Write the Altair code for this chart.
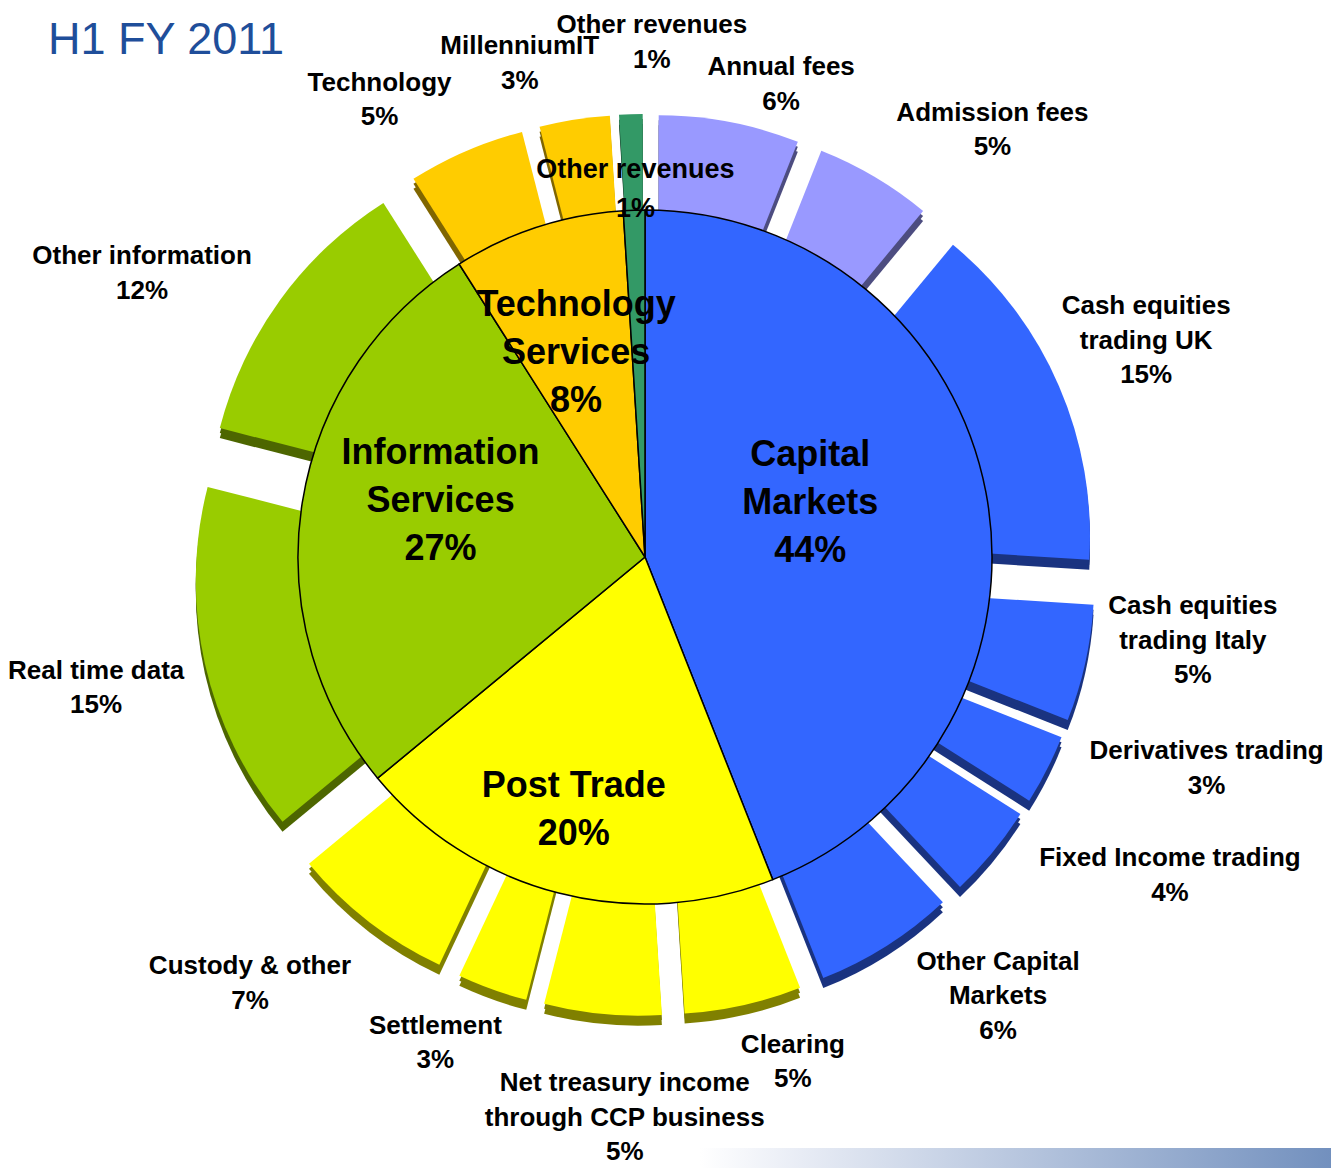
import math
import altair as alt
import pandas as pd

# ---------------- data ----------------
inner_names = ["Capital Markets", "Post Trade", "Information Services",
               "Technology Services", "Other revenues"]
inner_values = [44, 20, 27, 8, 1]
inner_display = ["Capital\nMarkets", "Post Trade", "Information\nServices",
                 "Technology\nServices", "Other revenues"]

outer_names = ["Annual fees", "Admission fees", "Cash equities trading UK",
               "Cash equities trading Italy", "Derivatives trading",
               "Fixed Income trading", "Other Capital Markets", "Clearing",
               "Net treasury income through CCP business", "Settlement",
               "Custody & other", "Real time data", "Other information",
               "Technology", "MillenniumIT", "Other revenues"]
outer_values = [6, 5, 15, 5, 3, 4, 6, 5, 5, 3, 7, 15, 12, 5, 3, 1]
outer_display = ["Annual fees", "Admission fees", "Cash equities\ntrading UK",
                 "Cash equities\ntrading Italy", "Derivatives trading",
                 "Fixed Income trading", "Other Capital\nMarkets", "Clearing",
                 "Net treasury income\nthrough CCP business", "Settlement",
                 "Custody & other", "Real time data", "Other information",
                 "Technology", "MillenniumIT", "Other revenues"]

title_text = "H1 FY 2011"

# ---------------- style ----------------
inner_colors = ["#3366FF", "#FFFF00", "#99CC00", "#FFCC00", "#339966"]
outer_face = ["#9999FF", "#9999FF", "#3366FF", "#3366FF", "#3366FF", "#3366FF",
              "#3366FF", "#FFFF00", "#FFFF00", "#FFFF00", "#FFFF00", "#99CC00",
              "#99CC00", "#FFCC00", "#FFCC00", "#339966"]
outer_side = ["#4D4D80", "#4D4D80", "#1A3380", "#1A3380", "#1A3380", "#1A3380",
              "#1A3380", "#808000", "#808000", "#808000", "#808000", "#4D6600",
              "#4D6600", "#806600", "#806600", "#1A4D33"]
# label nudges (pixels) relative to a point on the slice bisector
outer_nudge_dx = [34, 70, 1, 16, 76, 105, 61, 29, 31, -25, -61, -17, -62, -49, -40, 24]
outer_nudge_dy = [63, 42, 0, -35, -36, -29, -21, -27, 18, -27, -4, 12, 37, 43, 45, 30]
inner_nudge_dx = [-41, -19, 3, -4, -3]
inner_nudge_dy = [-15, 50, -23, -4, -158]

W, H = 1323, 1160
CX, CY = 637, 549
R_IN, R_OUT = 347, 378
EXPLODE, DROP, DEPTH = 73, 8, 10
LR_OUT, LR_IN = 545, 210
LH_OUT, LH_BIG, LH_SMALL = 34.5, 48, 39
FONT = "Liberation Sans"

xs = alt.Scale(domain=[-CX, W - CX], nice=False, zero=False)
ys = alt.Scale(domain=[-CY, H - CY], nice=False, zero=False, reverse=True)
ts = alt.Scale(domain=[0, 100], range=[0, 2 * math.pi])

inner_df = pd.DataFrame({
    "name": inner_names, "value": inner_values, "disp": inner_display,
    "order": list(range(len(inner_names))),
    "ndx": inner_nudge_dx, "ndy": inner_nudge_dy,
})
outer_df = pd.DataFrame({
    "name": outer_names, "value": outer_values, "disp": outer_display,
    "order": list(range(len(outer_names))),
    "ndx": outer_nudge_dx, "ndy": outer_nudge_dy,
})


def polar(df):
    return (alt.Chart(df)
            .transform_window(cum="sum(value)", frame=[None, 0],
                              sort=[alt.SortField("order")])
            .transform_calculate(
                start="datum.cum - datum.value",
                mid="(datum.cum - datum.value / 2) / 100 * 2 * PI",
                label="datum.disp + '\\n' + datum.value + '%'",
                nlines="length(split(datum.disp + '\\n' + datum.value, '\\n'))"))


outer_base = polar(outer_df).transform_calculate(
    ox=f"sin(datum.mid) * {EXPLODE}",
    oy=f"-cos(datum.mid) * {EXPLODE} + {DROP}",
    lx=f"sin(datum.mid) * {LR_OUT} + datum.ndx",
    ly=f"-cos(datum.mid) * {LR_OUT} + datum.ndy - (datum.nlines - 1) * {LH_OUT} / 2",
)


def outer_layer(ycalc, colors):
    return outer_base.transform_calculate(oyy=ycalc).mark_arc(
        outerRadius=R_OUT, innerRadius=0).encode(
        theta=alt.Theta("start:Q", scale=ts),
        theta2="cum:Q",
        x=alt.X("ox:Q", scale=xs, axis=None),
        y=alt.Y("oyy:Q", scale=ys, axis=None),
        color=alt.Color("name:N", scale=alt.Scale(domain=outer_names, range=colors),
                        legend=None),
    )


side1 = outer_layer(f"datum.oy + {DEPTH}", outer_side)
side2 = outer_layer(f"datum.oy + {DEPTH / 2}", outer_side)
face = outer_layer("datum.oy", outer_face)

inner_base = polar(inner_df).transform_calculate(
    zx="0", zy="0",
    lx=f"sin(datum.mid) * {LR_IN} + datum.ndx",
    lyc=f"-cos(datum.mid) * {LR_IN} + datum.ndy",
)

inner_pie = inner_base.mark_arc(outerRadius=R_IN, innerRadius=0, stroke="black",
                                strokeWidth=1.5).encode(
    theta=alt.Theta("start:Q", scale=ts),
    theta2="cum:Q",
    x=alt.X("zx:Q", scale=xs, axis=None),
    y=alt.Y("zy:Q", scale=ys, axis=None),
    color=alt.Color("name:N", scale=alt.Scale(domain=inner_names, range=inner_colors),
                    legend=None),
)

outer_text = outer_base.mark_text(
    font=FONT, fontWeight="bold", fontSize=26, lineBreak="\n", lineHeight=LH_OUT,
    align="center", baseline="middle", color="black").encode(
    x=alt.X("lx:Q", scale=xs, axis=None),
    y=alt.Y("ly:Q", scale=ys, axis=None),
    text="label:N",
)

inner_big = inner_base.transform_filter("datum.value > 1").transform_calculate(
    ly=f"datum.lyc - (datum.nlines - 1) * {LH_BIG} / 2").mark_text(
    font=FONT, fontWeight="bold", fontSize=36, lineBreak="\n", lineHeight=LH_BIG,
    align="center", baseline="middle", color="black").encode(
    x=alt.X("lx:Q", scale=xs, axis=None),
    y=alt.Y("ly:Q", scale=ys, axis=None),
    text="label:N",
)

inner_small = inner_base.transform_filter("datum.value <= 1").transform_calculate(
    ly=f"datum.lyc - (datum.nlines - 1) * {LH_SMALL} / 2").mark_text(
    font=FONT, fontWeight="bold", fontSize=27, lineBreak="\n", lineHeight=LH_SMALL,
    align="center", baseline="middle", color="black").encode(
    x=alt.X("lx:Q", scale=xs, axis=None),
    y=alt.Y("ly:Q", scale=ys, axis=None),
    text="label:N",
)

title = alt.Chart(pd.DataFrame({"t": [title_text]})).mark_text(
    font=FONT, fontSize=45, align="left", baseline="alphabetic",
    color="#1F4E9A").encode(
    x=alt.value(40), y=alt.value(46), text="t:N")

band = alt.Chart(pd.DataFrame({"a": [0]})).mark_rect(
    color=alt.LinearGradient(
        gradient="linear", x1=0, x2=1, y1=0, y2=0,
        stops=[alt.GradientStop(offset=0, color="#FFFFFF"),
               alt.GradientStop(offset=0.16, color="#E8ECF5"),
               alt.GradientStop(offset=1, color="#7290BE")])).encode(
    x=alt.value(692), x2=alt.value(W), y=alt.value(H - 20), y2=alt.value(H))

chart = alt.layer(
    band, side1, side2, face, inner_pie, outer_text, inner_big, inner_small, title
).resolve_scale(color="independent").properties(
    width=W, height=H, padding=0, autosize="none"
).configure_view(stroke=None)

chart.save("out.html", embed_options={"renderer": "svg", "actions": False})
